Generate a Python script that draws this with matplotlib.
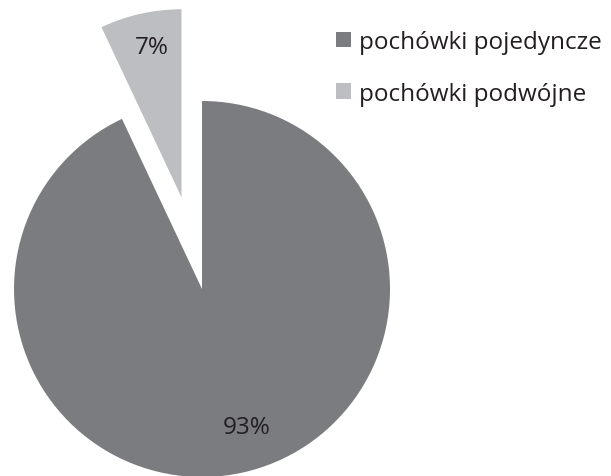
import matplotlib
matplotlib.use('Agg')
import matplotlib.pyplot as plt

plt.rcParams['font.family'] = ['Open Sans', 'DejaVu Sans']

labels = ['pochówki pojedyncze', 'pochówki podwójne']
shares = [93, 7]
colors = ['#7b7c80', '#bdbec2']
explode = [0, 0.5]

fig = plt.figure(figsize=(6.11, 4.77), dpi=100)
ax = fig.add_axes([0, 0, 1, 1])

wedges, texts, autotexts = ax.pie(shares, colors=colors, explode=explode,
                                  startangle=90, counterclock=False,
                                  autopct='%d%%', pctdistance=0.8,
                                  textprops={'fontsize': 17.5, 'color': '#231f20'})
# nudge labels to where Excel put them
autotexts[0].set_position((0.24, -0.735))
autotexts[1].set_position((-0.266, 1.287))

ax.set_aspect('equal')
ax.set_xlim(-1.0745, 2.1755)
ax.set_ylim(-0.9947, 1.5426)
ax.axis('off')

fig.legend(wedges, labels, loc='upper left', bbox_to_anchor=(0.514, 0.981),
           frameon=False, fontsize=17.5, handlelength=0.62, handleheight=0.62,
           handletextpad=0.32, labelspacing=1.15, labelcolor='#231f20')

fig.savefig('out.png', dpi=100)
